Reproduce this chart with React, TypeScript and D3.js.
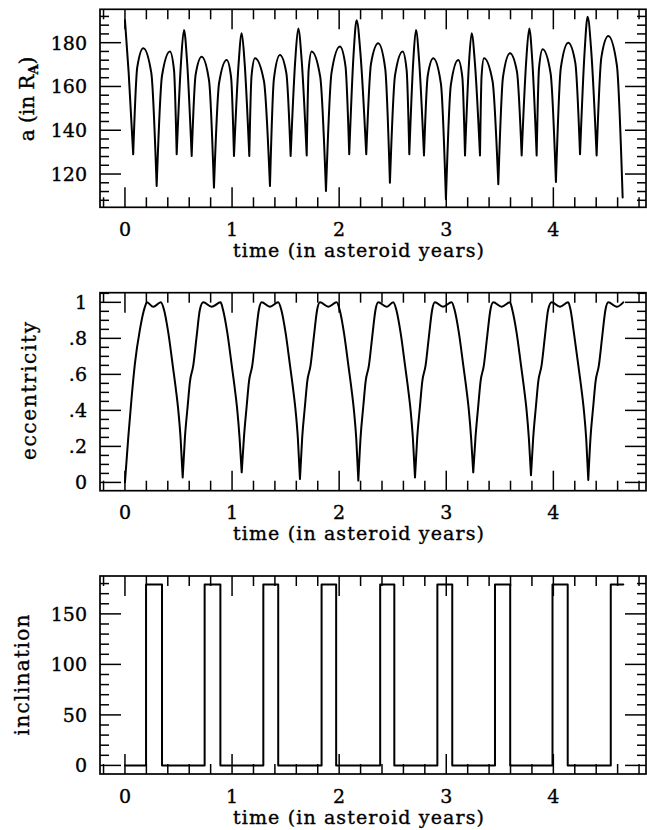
import React from 'react';
import * as d3 from 'd3';

const WIDTH = 647;
const HEIGHT = 830;
const FONT = '"DejaVu Serif", "Liberation Serif", serif';

// shared time axis
const TIME_TICKS = [0, 1, 2, 3, 4];
const TIME_TICK_LABELS = ['0', '1', '2', '3', '4'];
const X_TITLE = 'time (in asteroid years)';

// semi-major axis a (in R_A): cusps, shoulders and crests
const A_TIME = [0, 0.035, 0.077, 0.115, 0.171, 0.246, 0.296, 0.346, 0.42, 0.458, 0.483, 0.524, 0.551, 0.58, 0.623, 0.66, 0.716, 0.785, 0.831, 0.879, 0.95, 0.991, 1.018, 1.061, 1.09, 1.118, 1.161, 1.182, 1.214, 1.298, 1.354, 1.391, 1.447, 1.507, 1.547, 1.59, 1.618, 1.65, 1.697, 1.715, 1.743, 1.823, 1.877, 1.929, 2.007, 2.059, 2.094, 2.135, 2.163, 2.199, 2.253, 2.298, 2.365, 2.43, 2.474, 2.522, 2.593, 2.63, 2.655, 2.692, 2.717, 2.747, 2.792, 2.827, 2.879, 2.95, 2.997, 3.043, 3.112, 3.15, 3.175, 3.212, 3.237, 3.268, 3.315, 3.33, 3.352, 3.432, 3.486, 3.53, 3.595, 3.66, 3.704, 3.747, 3.775, 3.803, 3.844, 3.866, 3.9, 3.974, 4.024, 4.07, 4.139, 4.205, 4.249, 4.292, 4.32, 4.354, 4.404, 4.448, 4.513, 4.593, 4.647];
const A_VALUE = [190.3, 166, 129, 168.8, 177.5, 166.2, 114.5, 164.9, 176, 167.5, 129, 171.6, 185.8, 171.4, 128.2, 165.4, 173.6, 162.8, 113.8, 161.6, 172.1, 164.2, 128.2, 170.3, 184.3, 170.3, 128.2, 164.9, 172.9, 162.4, 114.5, 163.6, 174.4, 166.1, 128.2, 171.9, 186.5, 172, 128.5, 167.5, 176, 164.5, 112.3, 166.3, 178.2, 169.3, 129, 175, 190.3, 175, 129, 170.6, 179.7, 168.2, 116, 165.2, 176, 167.5, 129, 171.6, 185.8, 171.5, 128.5, 164.9, 172.9, 161.3, 108.5, 160.7, 172.1, 164.3, 128.5, 170.4, 184.3, 170.4, 128.5, 164.9, 172.9, 162.5, 115.3, 164.4, 175.2, 166.8, 128.5, 172, 186.5, 172, 128.5, 168.3, 177, 166.1, 116.4, 168.6, 180, 170.8, 129, 176.1, 191.8, 176, 128.5, 173.2, 183, 169.7, 109.3];
const A_TICKS = [120, 140, 160, 180];
const A_TICK_LABELS = ['120', '140', '160', '180'];

// eccentricity, middle panel
const E_TIME = [
  0, 0.031, 0.062, 0.093, 0.14, 0.187, 0.205, 0.265, 0.335, 0.364, 0.405, 0.446, 0.477, 0.498, 0.52, 0.539,
  0.56, 0.585, 0.607, 0.638, 0.669, 0.7, 0.731, 0.809, 0.893, 0.915, 0.956, 0.997, 1.028, 1.049, 1.071, 1.09,
  1.111, 1.136, 1.158, 1.189, 1.22, 1.251, 1.276, 1.354, 1.431, 1.459, 1.5, 1.541, 1.572, 1.593, 1.615, 1.634,
  1.655, 1.68, 1.702, 1.733, 1.764, 1.795, 1.821, 1.899, 1.977, 2.004, 2.045, 2.086, 2.117, 2.138, 2.16, 2.179,
  2.2, 2.225, 2.247, 2.278, 2.309, 2.34, 2.365, 2.443, 2.505, 2.533, 2.574, 2.615, 2.646, 2.667, 2.689, 2.708,
  2.729, 2.754, 2.776, 2.807, 2.838, 2.869, 2.894, 2.97, 3.05, 3.077, 3.118, 3.159, 3.19, 3.211, 3.233, 3.252,
  3.273, 3.298, 3.32, 3.351, 3.382, 3.413, 3.439, 3.517, 3.595, 3.616, 3.657, 3.698, 3.729, 3.75, 3.772, 3.791,
  3.812, 3.837, 3.859, 3.89, 3.921, 3.952, 3.984, 4.062, 4.139, 4.16, 4.192, 4.233, 4.264, 4.285, 4.307, 4.326,
  4.347, 4.372, 4.394, 4.425, 4.456, 4.487, 4.513, 4.591, 4.653
];
const E_VALUE = [
  0, 0.25, 0.47, 0.66, 0.85, 0.976, 1.0, 0.975, 1.0, 0.96, 0.83, 0.65, 0.51, 0.4, 0.24, 0.028,
  0.25, 0.42, 0.56, 0.65, 0.81, 0.96, 1.0, 0.975, 1.0, 0.96, 0.83, 0.65, 0.51, 0.4, 0.24, 0.056,
  0.25, 0.42, 0.56, 0.65, 0.81, 0.96, 1.0, 0.975, 1.0, 0.96, 0.83, 0.65, 0.51, 0.4, 0.24, 0.019,
  0.25, 0.42, 0.56, 0.65, 0.81, 0.96, 1.0, 0.975, 1.0, 0.96, 0.83, 0.65, 0.51, 0.4, 0.24, 0.01,
  0.25, 0.42, 0.56, 0.65, 0.81, 0.96, 1.0, 0.975, 1.0, 0.96, 0.83, 0.65, 0.51, 0.4, 0.24, 0.028,
  0.25, 0.42, 0.56, 0.65, 0.81, 0.96, 1.0, 0.975, 1.0, 0.96, 0.83, 0.65, 0.51, 0.4, 0.24, 0.056,
  0.25, 0.42, 0.56, 0.65, 0.81, 0.96, 1.0, 0.975, 1.0, 0.96, 0.83, 0.65, 0.51, 0.4, 0.24, 0.04,
  0.25, 0.42, 0.56, 0.65, 0.81, 0.96, 1.0, 0.975, 1.0, 0.96, 0.83, 0.65, 0.51, 0.4, 0.24, 0.013,
  0.25, 0.42, 0.56, 0.65, 0.81, 0.96, 1.0, 0.975, 1.0
];
const E_TICKS = [0, 0.2, 0.4, 0.6, 0.8, 1];
const E_TICK_LABELS = ['0', '.2', '.4', '.6', '.8', '1'];

// inclination, bottom panel (flips between prograde and retrograde)
const I_TIME = [0, 0.197, 0.346, 0.744, 0.891, 1.292, 1.431, 1.836, 1.972, 2.383, 2.515, 2.917, 3.056, 3.455, 3.597, 3.992, 4.134, 4.536, 4.653];
const I_VALUE = [0, 179, 0, 179, 0, 179, 0, 179, 0, 179, 0, 179, 0, 179, 0, 179, 0, 179, 179];
const I_TICKS = [0, 50, 100, 150];
const I_TICK_LABELS = ['0', '50', '100', '150'];

const X0 = 100, X1 = 646, PANEL_H = 198;

const x = d3.scaleLinear().domain([-0.233, 4.865]).range([X0, X1]);

// split at the cusps (sharp minima) and draw every arc with a monotone curve
function cuspPath(ts, vs, y, isCusp) {
  const n = Math.min(ts.length, vs.length);
  const pts = d3.range(n).map(i => [x(ts[i]), y(vs[i])]);
  const breaks = [0];
  for (let i = 1; i < n - 1; i++) {
    if (vs[i] < vs[i - 1] && vs[i] < vs[i + 1] && isCusp(vs[i])) breaks.push(i);
  }
  breaks.push(n - 1);
  const line = d3.line().curve(d3.curveMonotoneX);
  let d = '';
  for (let k = 0; k < breaks.length - 1; k++) {
    d += line(pts.slice(breaks[k], breaks[k + 1] + 1));
  }
  return d;
}

const Panel = ({ top, domain, minorStep, ticks, labels, title, titleX, titleY, titleLen, path }) => {
  const y0 = top, y1 = top + PANEL_H;
  const y = d3.scaleLinear().domain(domain).range([y1, y0]);
  const minors = d3.range(Math.ceil(domain[0] / minorStep), Math.floor(domain[1] / minorStep) + 1)
    .map(k => +(k * minorStep).toFixed(4));
  const xMinors = d3.range(-1, 25).map(k => +(k * 0.2).toFixed(2)).filter(v => x(v) > X0 + 1 && x(v) < X1 - 1);
  const isMajorY = v => ticks.some(t => Math.abs(t - v) < 1e-6);
  const isMajorX = v => Math.abs(v - Math.round(v)) < 1e-6;
  const d = path(y);
  return (
    <g>
      {minors.map(v => {
        const len = isMajorY(v) ? 21 : 9;
        const yy = y(v);
        return (
          <g key={'y' + v}>
            <line x1={X0} x2={X0 + len} y1={yy} y2={yy} />
            <line x1={X1} x2={X1 - len} y1={yy} y2={yy} />
          </g>
        );
      })}
      {xMinors.map(v => {
        const len = isMajorX(v) ? 20 : 10;
        const xx = x(v);
        return (
          <g key={'x' + v}>
            <line x1={xx} x2={xx} y1={y1} y2={y1 - len} />
            <line x1={xx} x2={xx} y1={y0} y2={y0 + len} />
          </g>
        );
      })}
      <rect x={X0} y={y0} width={X1 - X0} height={PANEL_H} fill="none" strokeWidth={1.7} />
      <path d={d} fill="none" strokeWidth={2} strokeLinejoin="round" strokeLinecap="round" />
      <g stroke="#000" strokeWidth={0.35} fill="#000" fontFamily={FONT} fontSize={19}>
        {ticks.map((v, i) => (
          <text key={'yl' + v} x={87} y={y(v)} dy="0.36em" textAnchor="end">{labels[i]}</text>
        ))}
        {TIME_TICKS.map((v, i) => (
          <text key={'xl' + v} x={x(v)} y={y1 + 28.5} textAnchor="middle">{TIME_TICK_LABELS[i]}</text>
        ))}
        <text x={233} y={y1 + 49.5} textLength={251} lengthAdjust="spacing">{X_TITLE}</text>
        <text transform={`translate(${titleX},${titleY}) rotate(-90)`} textAnchor="middle" fontSize={20}
          textLength={titleLen} lengthAdjust={titleLen ? 'spacing' : undefined}>{title}</text>
      </g>
    </g>
  );
};

export default function App() {
  return (
    <svg width={WIDTH} height={HEIGHT} style={{ position: 'absolute', left: 0, top: 0, background: '#fff' }}
      stroke="#000" strokeWidth={1.5}>
      <rect x={0} y={0} width={WIDTH} height={HEIGHT} fill="#fff" stroke="none" />
      <Panel top={9.3} domain={[104.8, 195.25]} minorStep={4} ticks={A_TICKS} labels={A_TICK_LABELS}
        title={<>a (in R<tspan fontSize={13} dy={4} fontWeight="bold">A</tspan><tspan dy={-4}>)</tspan></>}
        titleX={34} titleY={99}
        path={y => cuspPath(A_TIME, A_VALUE, y, () => true)} />
      <Panel top={292.7} domain={[-0.046, 1.0535]} minorStep={0.05} ticks={E_TICKS} labels={E_TICK_LABELS}
        title="eccentricity" titleX={36} titleY={391} titleLen={138}
        path={y => cuspPath(E_TIME, E_VALUE, y, v => v < 0.5)} />
      <Panel top={576} domain={[-8.5, 187.5]} minorStep={10} ticks={I_TICKS} labels={I_TICK_LABELS}
        title="inclination" titleX={29} titleY={675} titleLen={121}
        path={y => d3.line().curve(d3.curveStepAfter)(I_TIME.map((t, i) => [x(t), y(I_VALUE[i])]))} />
    </svg>
  );
}
